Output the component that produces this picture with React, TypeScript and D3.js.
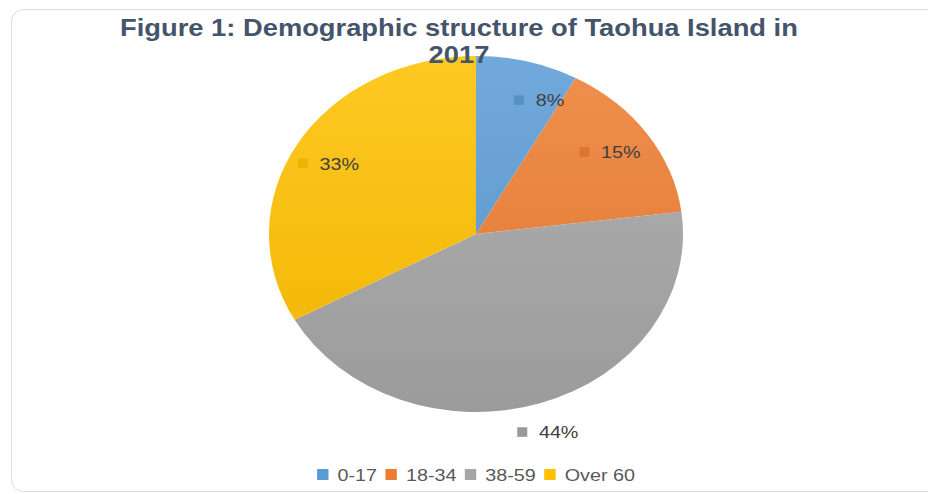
import React, { useEffect, useRef } from "react";
import * as d3 from "d3";

const titleLines = ["Figure 1: Demographic structure of Taohua Island in", "2017"];
const categories = ["0-17", "18-34", "38-59", "Over 60"];
const values = [8, 15, 44, 33];
const valueLabels = ["8%", "15%", "44%", "33%"];
const colors = ["#5B9BD5", "#ED7D31", "#A5A5A5", "#FFC000"];

// layout constants (not data)
const labelRadiusFactor = [0.8, 0.8, 1.17, 0.8];
const labelNudge: [number, number][] = [[22, 4], [-3, -2], [-3, 0], [-5, 2]];

const FONT = "'Liberation Sans', Arial, Helvetica, sans-serif";

export default function App() {
  const ref = useRef<SVGSVGElement>(null);
  useEffect(() => {
    const W = 928, H = 494, SX = 1.163;
    const svg = d3.select(ref.current!);
    svg.selectAll("*").remove();
    svg.attr("width", W).attr("height", H);

    // card
    svg.append("rect").attr("x", 11.5).attr("y", 9.5).attr("width", 940).attr("height", 482)
      .attr("rx", 12).attr("fill", "#ffffff").attr("stroke", "#dcdcdc").attr("stroke-width", 1);

    const root = svg.append("g").attr("transform", `scale(${SX},1)`);
    const cx = 476 / SX, cy = 234, R = 178;

    const defs = svg.append("defs");
    colors.forEach((c, i) => {
      const gr = defs.append("linearGradient").attr("id", `grad${i}`)
        .attr("gradientUnits", "userSpaceOnUse")
        .attr("x1", 0).attr("y1", -R).attr("x2", 0).attr("y2", R);
      gr.append("stop").attr("offset", 0).attr("stop-color", d3.interpolateRgb(c, "#ffffff")(0.14));
      gr.append("stop").attr("offset", 1).attr("stop-color", d3.interpolateRgb(c, "#000000")(0.06));
    });

    const pie = d3.pie<number>().sort(null).value((d) => d);
    const arcs = pie(values);
    const arc = d3.arc<d3.PieArcDatum<number>>().innerRadius(0).outerRadius(R);

    const pg = root.append("g").attr("transform", `translate(${cx},${cy})`);
    pg.selectAll("path").data(arcs).enter().append("path")
      .attr("d", (d) => arc(d) as string)
      .attr("fill", (_d, i) => `url(#grad${i})`);

    // title
    root.selectAll("text.title").data(titleLines).enter().append("text")
      .attr("class", "title")
      .attr("x", 459 / SX).attr("y", (_d, i) => 36 + i * 27.5)
      .attr("text-anchor", "middle")
      .attr("font-family", FONT).attr("font-weight", "bold").attr("font-size", 23.5)
      .attr("fill", "#44546A").text((d) => d);

    // data labels
    const fs = 17, ms = 8.6, gap = 10;
    arcs.forEach((a, i) => {
      const mid = (a.startAngle + a.endAngle) / 2;
      const r = labelRadiusFactor[i] * R;
      const px = cx + Math.sin(mid) * r + labelNudge[i][0] / SX;
      const py = cy - Math.cos(mid) * r + labelNudge[i][1];
      const lg = root.append("g");
      const t = lg.append("text").attr("font-family", FONT).attr("font-size", fs)
        .attr("fill", "#404040").text(valueLabels[i]);
      const tw = (t.node() as SVGTextElement).getComputedTextLength();
      const total = ms + gap + tw;
      const x0 = px - total / 2;
      lg.append("rect").attr("x", x0).attr("y", py - ms / 2 - 0.5).attr("width", ms).attr("height", ms + 1)
        .attr("fill", d3.color(colors[i])!.darker(0.2).formatHex());
      t.attr("x", x0 + ms + gap).attr("y", py + fs * 0.36);
    });

    // legend
    const lfs = 17, lsq = 9.8, lgap = 7.8, igap = 7.2;
    const ly = 474.5;
    const leg = root.append("g");
    const items = categories.map((c, i) => {
      const t = leg.append("text").attr("font-family", FONT).attr("font-size", lfs)
        .attr("fill", "#595959").text(c);
      const w = (t.node() as SVGTextElement).getComputedTextLength();
      return { t, w, i };
    });
    const totalW = items.reduce((s, it) => s + lsq + lgap + it.w, 0) + igap * (items.length - 1);
    let x = cx - totalW / 2;
    items.forEach((it) => {
      leg.append("rect").attr("x", x).attr("y", ly - 5.5).attr("width", lsq).attr("height", 11)
        .attr("fill", colors[it.i]);
      it.t.attr("x", x + lsq + lgap).attr("y", ly + lfs * 0.36);
      x += lsq + lgap + it.w + igap;
    });
  }, []);

  return (
    <svg ref={ref} width={928} height={494}
      style={{ position: "absolute", left: 0, top: 0, display: "block", background: "#fff" }} />
  );
}
